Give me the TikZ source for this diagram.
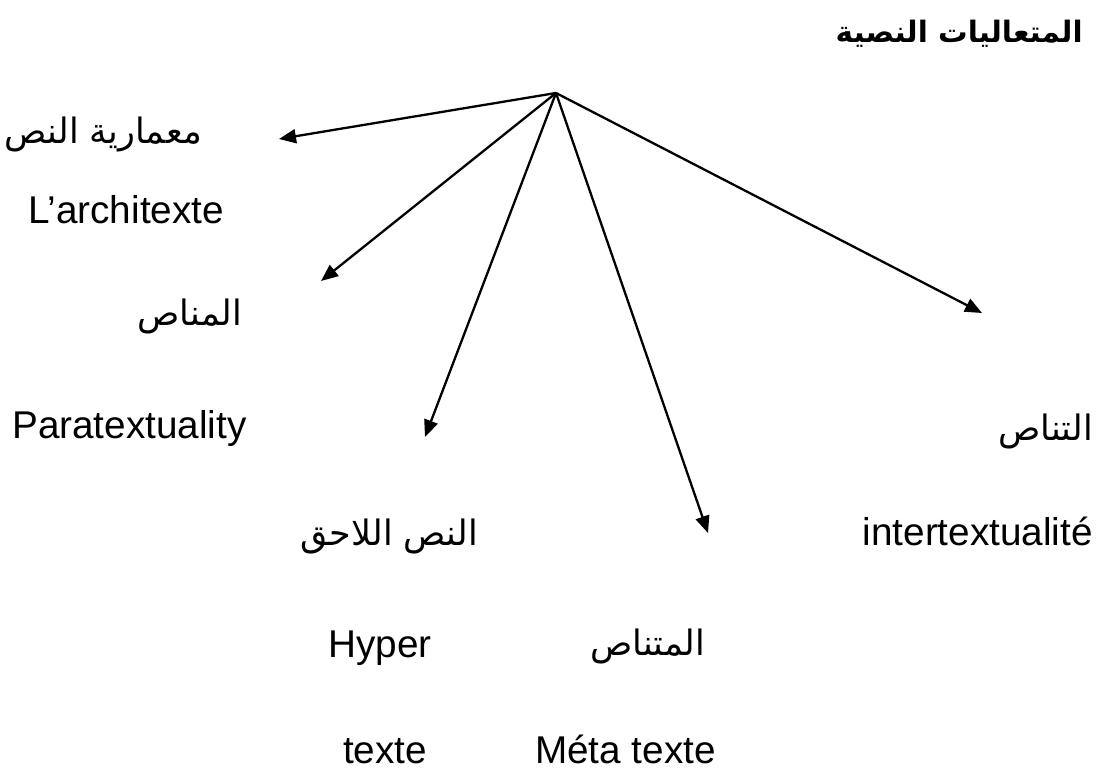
\documentclass[tikz,border=0pt]{standalone}
\usepackage{fontspec}
\setmainfont{Liberation Sans}
\newfontfamily\arabicfont[Script=Arabic]{DejaVu Sans}
\TeXXeTstate=1
\usetikzlibrary{arrows.meta}
\begin{document}
\begin{tikzpicture}[x=1pt,y=-1pt,
  lat/.style={inner sep=0pt,font=\fontsize{38.7}{46}\selectfont},
  ar/.style={inner sep=0pt,font=\fontsize{35}{44}\arabicfont},
  conn/.style={line width=2.3pt,-{Triangle[length=17pt,width=14pt]}}]
\useasboundingbox (0,0) rectangle (1103,773);
% title
\node[inner sep=0pt,font=\fontsize{29.5}{40}\arabicfont\bfseries,anchor=base east] (title) at (1083,43) {\beginR المتعاليات النصية\endR};
% labels
\node[ar,anchor=base east] (archar) at (202,143) {\beginR معمارية النص\endR};
\node[lat,anchor=base west] (archfr) at (28,223) {L’architexte};
\node[ar,anchor=base east] (parar) at (242,325) {\beginR المناص\endR};
\node[lat,anchor=base west] (parafr) at (12,438) {Paratextuality};
\node[ar,anchor=base east] (interar) at (1093,440) {\beginR التناص\endR};
\node[lat,anchor=base east] (interfr) at (1093,545) {intertextualité};
\node[ar,anchor=base east] (hypar) at (478,545) {\beginR النص اللاحق\endR};
\node[lat,anchor=base west] (hypfr1) at (328,657) {Hyper};
\node[lat,anchor=base west] (hypfr2) at (343,763) {texte};
\node[ar,anchor=base east] (metar) at (705,655) {\beginR المتناص\endR};
\node[lat,anchor=base west] (metfr) at (535,763) {Méta texte};
% connectors
\coordinate (o) at (556,93);
\coordinate (tarch) at (279,139);
\coordinate (tpara) at (321,281);
\coordinate (thyp) at (425,437);
\coordinate (tmet) at (708,533);
\coordinate (tint) at (982,313);
\draw[conn] (o) -- (tarch);
\draw[conn] (o) -- (tpara);
\draw[conn] (o) -- (thyp);
\draw[conn] (o) -- (tmet);
\draw[conn] (o) -- (tint);
\end{tikzpicture}
\end{document}
